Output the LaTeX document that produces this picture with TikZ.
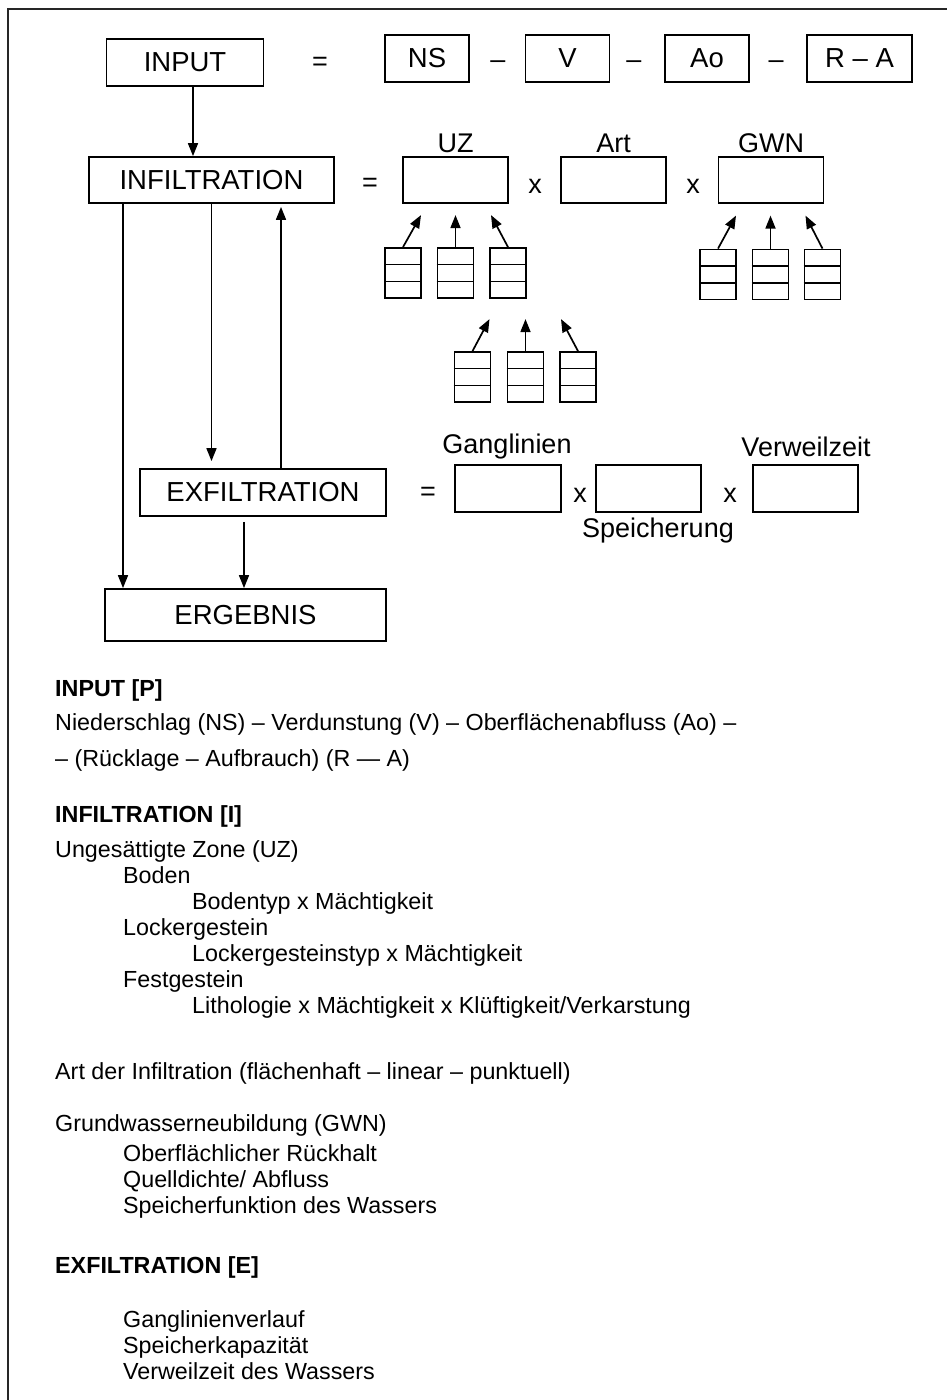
\documentclass[tikz,border=0pt]{standalone}
\usepackage{fontspec}
\setmainfont{Liberation Sans}
\usetikzlibrary{arrows.meta,calc}
\begin{document}
\begin{tikzpicture}[x=1pt,y=-1pt,
  lw/.style={line width=1.7pt},
  bigbox/.style={draw,line width=1.8pt,inner sep=0pt,font=\fontsize{27.5}{30}\selectfont},
  lab/.style={inner sep=0pt,font=\fontsize{27}{30}\selectfont},
  arr/.style={line width=1.7pt,-{Triangle[length=13pt,width=10pt]}},
  body/.style={anchor=west,inner sep=0pt,font=\fontsize{23.3}{28}\selectfont,text height=17pt,text depth=5pt},
  head/.style={anchor=west,inner sep=0pt,font=\bfseries\fontsize{23.3}{28}\selectfont,text height=17pt,text depth=5pt},
  cell/.style={draw,line width=1.8pt,minimum width=36pt,minimum height=50pt,inner sep=0pt}
]
\fill[white] (0,0) rectangle (947,1400);
\useasboundingbox (0,0) rectangle (947,1400);
% frame
\draw[line width=1.8pt,black!85] (8,1400) -- (8,9) -- (947,9);

% top row
\node[bigbox,minimum width=157pt,minimum height=47pt] (input) at (185,62.5) {INPUT};
\node[lab] (eq1) at (320,64) {=};
\node[bigbox,minimum width=84pt,minimum height=47pt] (ns) at (427,58.5) {NS};
\node[lab] (m1) at (498,65) {–};
\node[bigbox,minimum width=84pt,minimum height=47pt] (v) at (567.5,58.5) {V};
\node[lab] (m2) at (634,65) {–};
\node[bigbox,minimum width=84pt,minimum height=47pt] (ao) at (707,58.5) {Ao};
\node[lab] (m3) at (776,65) {–};
\node[bigbox,minimum width=105pt,minimum height=47pt] (ra) at (859.5,58.5) {R – A};

% infiltration row
\node[bigbox,minimum width=245pt,minimum height=46pt] (infil) at (211.5,180) {INFILTRATION};
\node[lab] (eq2) at (370,185) {=};
\node[bigbox,minimum width=105pt,minimum height=46pt] (uz) at (455.5,180) {};
\node[lab] (x1) at (535,186) {x};
\node[bigbox,minimum width=105pt,minimum height=46pt] (art) at (613.5,180) {};
\node[lab] (x2) at (693,186) {x};
\node[bigbox,minimum width=105pt,minimum height=46pt] (gwn) at (771,180) {};
\node[lab] (luz) at (455.5,143) {UZ};
\node[lab] (lart) at (613.5,143) {Art};
\node[lab] (lgwn) at (771,143) {GWN};

% small stacked boxes
\node[cell] (u1) at (403,273) {};
\node[cell] (u2) at (455.5,273) {};
\node[cell] (u3) at (508,273) {};
\node[cell] (g1) at (718,274.5) {};
\node[cell] (g2) at (770.5,274.5) {};
\node[cell] (g3) at (822.5,274.5) {};
\node[cell] (l1) at (472.5,377) {};
\node[cell] (l2) at (525.5,377) {};
\node[cell] (l3) at (578,377) {};
\foreach \n in {u1,u2,u3,g1,g2,g3,l1,l2,l3}{
  \draw[lw] ($(\n.north west)!1/3!(\n.south west)$) -- ($(\n.north east)!1/3!(\n.south east)$);
  \draw[lw] ($(\n.north west)!2/3!(\n.south west)$) -- ($(\n.north east)!2/3!(\n.south east)$);
}
\draw[arr] (u1.north) -- ++(18,-32);
\draw[arr] (u2.north) -- ++(0,-32);
\draw[arr] (u3.north) -- ++(-17,-32);
\draw[arr] (g1.north) -- ++(18,-33);
\draw[arr] (g2.north) -- ++(0,-33);
\draw[arr] (g3.north) -- ++(-17,-33);
\draw[arr] (l1.north) -- ++(17,-32);
\draw[arr] (l2.north) -- ++(0,-32);
\draw[arr] (l3.north) -- ++(-17,-32);

% exfiltration row
\node[bigbox,minimum width=246pt,minimum height=47pt] (exfil) at (263,492.5) {EXFILTRATION};
\node[lab] (eq3) at (428,494) {=};
\node[bigbox,minimum width=106pt,minimum height=47pt] (gang) at (508,488.5) {};
\node[lab] (x3) at (580,495) {x};
\node[bigbox,minimum width=105pt,minimum height=47pt] (speich) at (648.5,488.5) {};
\node[lab] (x4) at (730,495) {x};
\node[bigbox,minimum width=105pt,minimum height=47pt] (verw) at (805.5,488.5) {};
\node[lab] (lgang) at (507,447) {Ganglinien};
\node[lab] (lverw) at (806,447) {Verweilzeit};
\node[lab] (lspeich) at (658,531) {Speicherung};

% ergebnis
\node[bigbox,minimum width=281pt,minimum height=52pt] (ergeb) at (245.5,615) {ERGEBNIS};

% connectors
\draw[arr] ([xshift=8pt]input.south) coordinate (a0) -- (a0 |- infil.north);
\draw[arr] ([xshift=-88.5pt]infil.south) coordinate (a1) -- (a1 |- ergeb.north);
\draw[arr] (infil.south) -- ([yshift=7pt]infil.south |- exfil.north);
\draw[arr,shorten >=3pt] ([xshift=18pt]exfil.north) coordinate (a2) -- (a2 |- infil.south);
\draw[arr] ([xshift=-19pt,yshift=-5pt]exfil.south) coordinate (a3) -- (a3 |- ergeb.north);

% text section
\node[head] (t1) at (55,690) {INPUT [P]};
\node[body] (t2) at (55,724) {Niederschlag (NS) – Verdunstung (V) – Oberflächenabfluss (Ao) –};
\node[body] (t3) at (55,760) {– (Rücklage – Aufbrauch) (R — A)};
\node[head] (t4) at (55,816) {INFILTRATION [I]};
\node[body] (t5) at (55,851) {Ungesättigte Zone (UZ)};
\node[body] (t6) at (123,877) {Boden};
\node[body] (t7) at (192,903) {Bodentyp x Mächtigkeit};
\node[body] (t8) at (123,929) {Lockergestein};
\node[body] (t9) at (192,955) {Lockergesteinstyp x Mächtigkeit};
\node[body] (t10) at (123,981) {Festgestein};
\node[body] (t11) at (192,1007) {Lithologie x Mächtigkeit x Klüftigkeit/Verkarstung};
\node[body] (t12) at (55,1073) {Art der Infiltration (flächenhaft – linear – punktuell)};
\node[body] (t13) at (55,1125) {Grundwasserneubildung (GWN)};
\node[body] (t14) at (123,1155) {Oberflächlicher Rückhalt};
\node[body] (t15) at (123,1181) {Quelldichte/ Abfluss};
\node[body] (t16) at (123,1207) {Speicherfunktion des Wassers};
\node[head] (t17) at (55,1267) {EXFILTRATION [E]};
\node[body] (t18) at (123,1321) {Ganglinienverlauf};
\node[body] (t19) at (123,1347) {Speicherkapazität};
\node[body] (t20) at (123,1373) {Verweilzeit des Wassers};
\end{tikzpicture}
\end{document}
